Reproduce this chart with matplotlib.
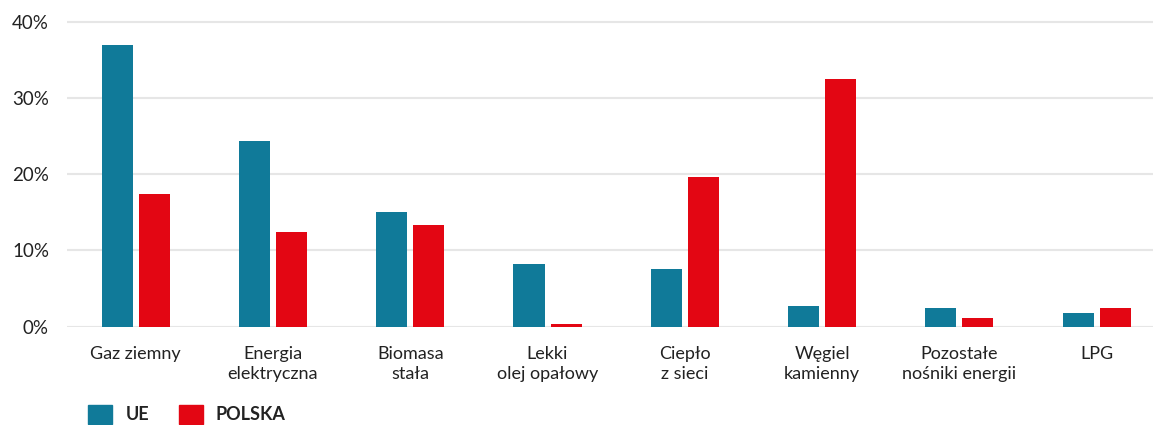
import matplotlib.pyplot as plt
import matplotlib.patches as mpatches
import numpy as np

plt.rcParams['font.family'] = ['Lato', 'DejaVu Sans']

categories = ['Gaz ziemny', 'Energia\nelektryczna', 'Biomasa\nstała', 'Lekki\nolej opałowy',
              'Ciepło\nz sieci', 'Węgiel\nkamienny', 'Pozostałe\nnośniki energii', 'LPG']
ue = [37.0, 24.4, 15.0, 8.2, 7.6, 2.7, 2.4, 1.8]
polska = [17.4, 12.4, 13.4, 0.3, 19.6, 32.5, 1.1, 2.4]

teal = '#107A99'
red = '#E30613'
txt = '#222222'

fig = plt.figure(figsize=(11.53, 4.25), dpi=100)
ax = fig.add_axes([67 / 1153, 98.5 / 425, 1 - 67 / 1153, 0.734])

x = np.arange(len(categories))
w = 0.226
off = 0.135
ax.bar(x - off, ue, w, color=teal, zorder=3)
ax.bar(x + off, polska, w, color=red, zorder=3)

ax.set_xlim(-0.5, 7.41)
ax.set_ylim(0, 41)
ax.set_yticks([0, 10, 20, 30, 40])
ax.set_yticklabels(['0%', '10%', '20%', '30%', '40%'])
ax.grid(axis='y', color='#E6E6E6', linewidth=1.5, zorder=0)
ax.set_xticks(x)
ax.set_xticklabels(categories, linespacing=1.3)
ax.tick_params(axis='x', length=0, pad=14, labelsize=13, labelcolor=txt)
ax.tick_params(axis='y', length=0, pad=13, labelsize=13.5, labelcolor=txt)
for s in ax.spines.values():
    s.set_visible(False)

handles = [mpatches.Patch(color=teal, label='UE'), mpatches.Patch(color=red, label='POLSKA')]
fig.legend(handles=handles, loc='lower left', bbox_to_anchor=(72 / 1153, -0.036), ncol=2,
           frameon=False, handlelength=1.33, handleheight=1.28, handletextpad=0.72,
           columnspacing=1.65, prop={'weight': 'bold', 'size': 13}, labelcolor=txt)

fig.savefig('out.png', dpi=100)
